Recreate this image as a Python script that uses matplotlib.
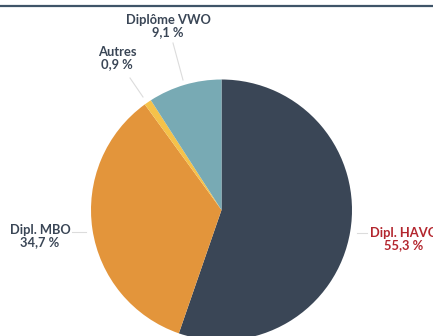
import matplotlib
matplotlib.use("Agg")
import matplotlib.pyplot as plt
from matplotlib.lines import Line2D

categories = ["Dipl. HAVO", "Dipl. MBO", "Autres", "Diplôme VWO"]
values = [55.3, 34.7, 0.9, 9.1]
value_labels = ["55,3 %", "34,7 %", "0,9 %", "9,1 %"]
colors = ["#3a4656", "#e3953b", "#f5c24a", "#78aab4"]
text_colors = ["#b3262e", "#3a4656", "#3a4656", "#3a4656"]

W, H = 433, 336
fig = plt.figure(figsize=(W / 100, H / 100), dpi=100)
fig.patch.set_facecolor("white")
ax = fig.add_axes([0, 0, 1, 1])

cx, cy, r = 221.5, H - 210, 130.5
ax.pie(values, colors=colors, startangle=90, counterclock=False,
       center=(cx, cy), radius=r, wedgeprops=dict(linewidth=0), frame=True)
ax.set_xlim(0, W)
ax.set_ylim(0, H)
ax.set_aspect("equal")
ax.axis("off")

# top rule
ax.add_line(Line2D([0, 432], [H - 6, H - 6], color="#3f5468", lw=1.6))

# label positions (pixel coords: x, y of text center) and leader lines
label_pos = [(404, 239), (40, 236), (117, 58), (168, 26)]
leaders = [((357, 233), (367, 233)), ((72, 232), (86, 232)),
           ((130, 78), (143, 97)), ((173, 43), (183, 80))]

for i, cat in enumerate(categories):
    x, y = label_pos[i]
    ax.text(x, H - y, f"{cat}\n{value_labels[i]}", ha="center", va="center",
            fontsize=9.3, fontweight="bold", family="Lato", color=text_colors[i],
            linespacing=1.05)
    (x0, y0), (x1, y1) = leaders[i]
    ax.add_line(Line2D([x0, x1], [H - y0, H - y1], color="#dcdcdc", lw=0.8))

fig.savefig("out.png", dpi=100, facecolor="white")
